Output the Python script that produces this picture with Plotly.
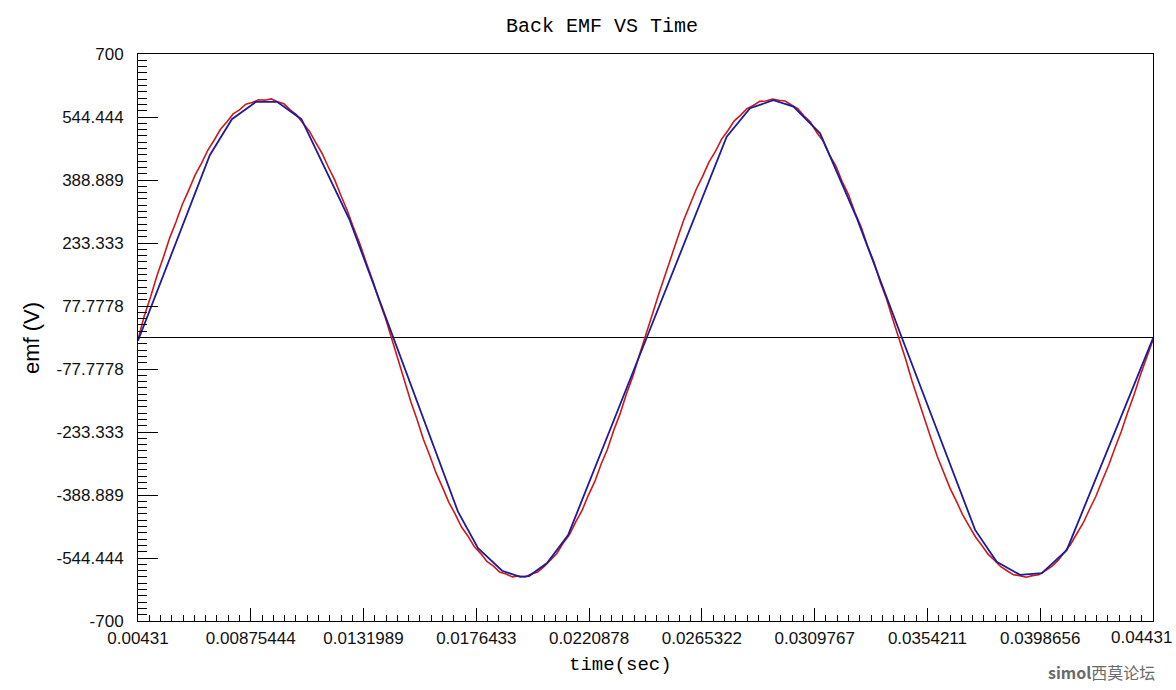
import plotly.graph_objects as go

# ---------------- data ----------------
RED_T0 = 0.00431      # first sample time of the measured trace (s)
RED_DT = 0.00025      # sample interval of the measured trace (s)

red_emf = [
    # period 1, positive half
    -5, 54, 101, 153, 198, 246, 286, 329, 364, 401,
    430, 462, 487, 514, 532, 552, 562, 576, 580, 587,
    586, 589, 582, 577, 562, 550, 529, 510, 482, 455,
    421, 389, 350, 313, 270, 230, 184, 141, 92, 48, -3,
    # period 1, negative half
    -55, -105, -158, -203, -252, -292, -335, -370, -407, -436,
    -468, -490, -516, -533, -553, -564, -579, -584, -591, -589,
    -591, -584, -579, -566, -549, -534, -508, -487, -455, -427,
    -389, -356, -313, -276, -229, -188, -139, -96, -45, 2,
    # period 2, positive half
    53, 103, 150, 201, 243, 289, 326, 366, 398, 433,
    459, 490, 511, 535, 549, 565, 573, 583, 584, 589,
    586, 584, 574, 565, 547, 532, 506, 485, 451, 424,
    385, 353, 309, 273, 226, 187, 137, 95, 44, -2,
    # period 2, negative half
    -53, -107, -155, -205, -249, -294, -332, -372, -404, -438,
    -465, -492, -513, -535, -550, -566, -576, -586, -588, -592,
    -588, -586, -576, -566, -551, -531, -511, -484, -458, -424,
    -392, -353, -316, -273, -232, -185, -142, -93, -48, -6,
]
red_time = [RED_T0 + i * RED_DT for i in range(len(red_emf))]

blue_time = [0.00431, 0.00714, 0.00801, 0.00896, 0.00979, 0.01075, 0.01264, 0.01436,
             0.01692, 0.01771, 0.01866, 0.01937, 0.01972, 0.02043, 0.02126, 0.02436,
             0.02751, 0.02843, 0.02935, 0.03014, 0.03119, 0.03265, 0.03441,
             0.03730, 0.03815, 0.03907, 0.03993, 0.04091, 0.04431]
blue_emf = [-8, 450, 539, 582, 582, 539, 292, 0,
            -430, -520, -576, -591, -589, -557, -488, 0,
            496, 566, 586, 570, 504, 293, 0,
            -475, -554, -586, -582, -525, -2]

x_tickvals = [0.00431, 0.00875444, 0.0131989, 0.0176433, 0.0220878,
              0.0265322, 0.0309767, 0.0354211, 0.0398656, 0.04431]
x_ticktext = ["0.00431", "0.00875444", "0.0131989", "0.0176433", "0.0220878",
              "0.0265322", "0.0309767", "0.0354211", "0.0398656", "0.04431"]
y_tickvals = [-700, -544.444, -388.889, -233.333, -77.7778,
              77.7778, 233.333, 388.889, 544.444, 700]
y_ticktext = ["-700", "-544.444", "-388.889", "-233.333", "-77.7778",
              "77.7778", "233.333", "388.889", "544.444", "700"]

title_text = "Back EMF VS Time"
x_title = "time(sec)"
y_title = "emf (V)"
watermark = "<b>simol</b>西莫论坛"

# ---------------- figure ----------------
fig = go.Figure()
fig.add_trace(go.Scatter(x=red_time, y=red_emf, mode="lines",
                         line=dict(color="#d01818", width=1.6), showlegend=False))
fig.add_trace(go.Scatter(x=blue_time, y=blue_emf, mode="lines",
                         line=dict(color="#1c1c9c", width=1.8), showlegend=False))

tick_font = dict(family="Liberation Sans, Arial, sans-serif", size=17, color="#111111")

# the last x label sits at the right edge of the page; draw it as a
# right-aligned annotation so it stays fully visible
axis_ticktext = x_ticktext[:-1] + [""]

fig.update_layout(
    width=1176, height=690,
    margin=dict(l=138, r=23, t=54, b=69, autoexpand=False),
    paper_bgcolor="white", plot_bgcolor="white",
    title=dict(text=title_text, xref="container", x=602 / 1176, xanchor="center",
               yref="container", y=1 - 25 / 690, yanchor="middle",
               font=dict(family="Liberation Mono, Courier New, monospace", size=20, color="black")),
    xaxis=dict(range=[0.00431, 0.04431], tickvals=x_tickvals, ticktext=axis_ticktext,
               ticks="inside", ticklen=13, tickcolor="black", tickwidth=1,
               minor=dict(tick0=0.00431, dtick=0.000444444, ticks="inside", ticklen=6,
                          tickcolor="black", tickwidth=1, showgrid=False),
               showline=True, linecolor="black", linewidth=1, mirror=True,
               showgrid=False, zeroline=False, tickfont=tick_font, automargin=False,
               ticklabelstandoff=2, ticklabeloverflow="allow"),
    yaxis=dict(range=[-700, 700], tickvals=y_tickvals, ticktext=y_ticktext,
               ticks="inside", ticklen=20, tickcolor="black", tickwidth=1,
               minor=dict(tick0=-700, dtick=15.5556, ticks="inside", ticklen=9,
                          tickcolor="black", tickwidth=1, showgrid=False),
               showline=True, linecolor="black", linewidth=1, mirror=True,
               showgrid=False, zeroline=True, zerolinecolor="black", zerolinewidth=1,
               tickfont=tick_font, automargin=False,
               ticklabelstandoff=10, ticklabeloverflow="allow"),
    annotations=[
        dict(text=x_ticktext[-1], xref="paper", yref="paper", x=(1174 - 138) / 1015,
             y=(621 - 637) / 567, xanchor="right", yanchor="middle", showarrow=False,
             font=tick_font),
        dict(text=x_title, xref="paper", yref="paper", x=(620 - 138) / 1015,
             y=(621 - 665) / 567, xanchor="center", yanchor="middle", showarrow=False,
             font=dict(family="Liberation Mono, Courier New, monospace", size=19, color="black")),
        dict(text=y_title, xref="paper", yref="paper", x=(31 - 138) / 1015,
             y=(621 - 338) / 567, xanchor="center", yanchor="middle", showarrow=False,
             textangle=-90,
             font=dict(family="Liberation Sans, Arial, sans-serif", size=22, color="black")),
        dict(text=watermark, xref="paper", yref="paper", x=(1101 - 138) / 1015,
             y=(621 - 672) / 567, xanchor="center", yanchor="middle", showarrow=False,
             font=dict(family="Noto Sans CJK SC, sans-serif", size=16, color="#6a6a6a")),
    ],
)

fig.write_html("out.html", config={"displayModeBar": False},
               post_script="document.body.style.margin='0';")
